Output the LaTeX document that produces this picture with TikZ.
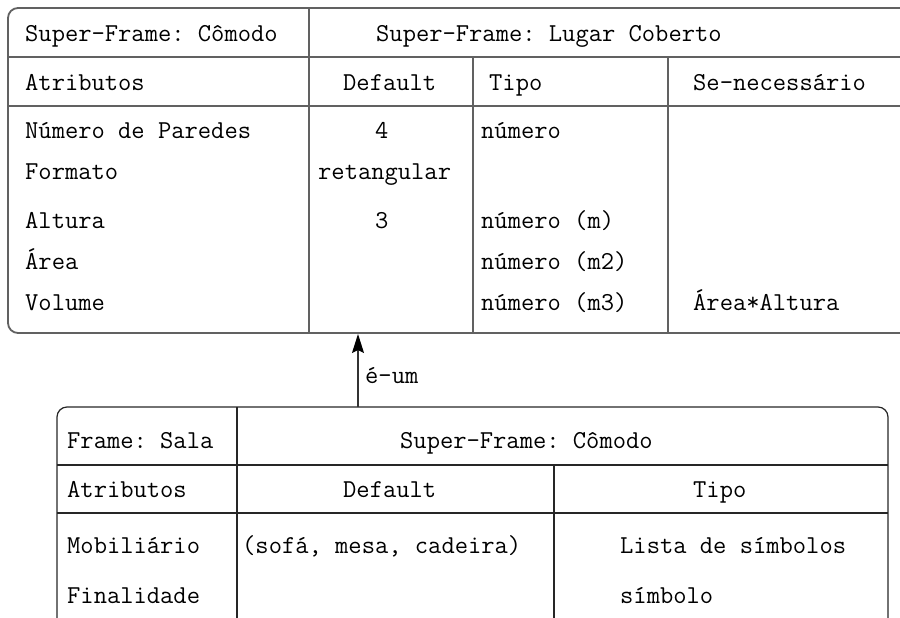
\documentclass[tikz,border=0pt]{standalone}
\usepackage{fontspec}
\usetikzlibrary{arrows.meta}
\frenchspacing
\begin{document}
\begin{tikzpicture}[x=1pt,y=-1pt,
  txt/.style={inner sep=0pt,anchor=base west,font=\ttfamily\frenchspacing\fontsize{25.8}{30}\selectfont,text=black},
  topline/.style={draw=black!62,line width=1.8pt},
  botline/.style={draw=black!85,line width=1.2pt},
  isa/.style={draw=black!80,line width=1.2pt,-{Stealth[length=19pt,width=12pt,inset=3pt,black]}}]
\useasboundingbox (0,0) rectangle (900,618);
% top table frame
\draw[topline,rounded corners=10pt] (900,8) -- (8,8) -- (8,333) -- (900,333);
\draw[topline] (8,57) -- (900,57) (8,106) -- (900,106);
\draw[topline] (309,8) -- (309,333) (473,57) -- (473,333) (668,57) -- (668,333);
% top table text
\node[txt] (t1) at (25,42) {Super-Frame: Cômodo};
\node[txt] (t2) at (376,42) {Super-Frame: Lugar Coberto};
\node[txt] (t3) at (25,91) {Atributos};
\node[txt] (t4) at (343,91) {Default};
\node[txt] (t5) at (489,91) {Tipo};
\node[txt] (t6) at (693,91) {Se-necessário};
\node[txt] (a1) at (25,139) {Número de Paredes};
\node[txt] (a2) at (25,179) {Formato};
\node[txt] (a3) at (25,228) {Altura};
\node[txt] (a4) at (25,269) {Área};
\node[txt] (a5) at (25,310) {Volume};
\node[txt] (d1) at (375,139) {4};
\node[txt] (d2) at (318,179) {retangular};
\node[txt] (d3) at (375,228) {3};
\node[txt] (y1) at (481,139) {número};
\node[txt] (y3) at (481,228) {número (m)};
\node[txt] (y4) at (481,269) {número (m2)};
\node[txt] (y5) at (481,310) {número (m3)};
\node[txt] (n5) at (693,310) {Área*Altura};
% bottom table frame
\draw[botline,rounded corners=10pt] (57,618) -- (57,407) -- (888,407) -- (888,618);
\draw[botline] (57,465) -- (888,465) (57,513) -- (888,513);
\draw[botline] (237,407) -- (237,618) (554,465) -- (554,618);
% bottom table text
\node[txt] (b1) at (67,448) {Frame: Sala};
\node[txt] (b2) at (400,448) {Super-Frame: Cômodo};
\node[txt] (b3) at (67,497) {Atributos};
\node[txt] (b4) at (343,497) {Default};
\node[txt] (b5) at (693,497) {Tipo};
\node[txt] (c1) at (67,553) {Mobiliário};
\node[txt] (c2) at (67,603) {Finalidade};
\node[txt] (e1) at (242,553) {(sofá, mesa, cadeira)};
\node[txt] (f1) at (620,553) {Lista de símbolos};
\node[txt] (f2) at (620,603) {símbolo};
% is-a connector
\coordinate (sub) at (358,407);
\coordinate (sup) at (358,334);
\draw[isa] (sub) -- (sup);
\node[txt] (lbl) at (365,383) {é-um};
\end{tikzpicture}
\end{document}
